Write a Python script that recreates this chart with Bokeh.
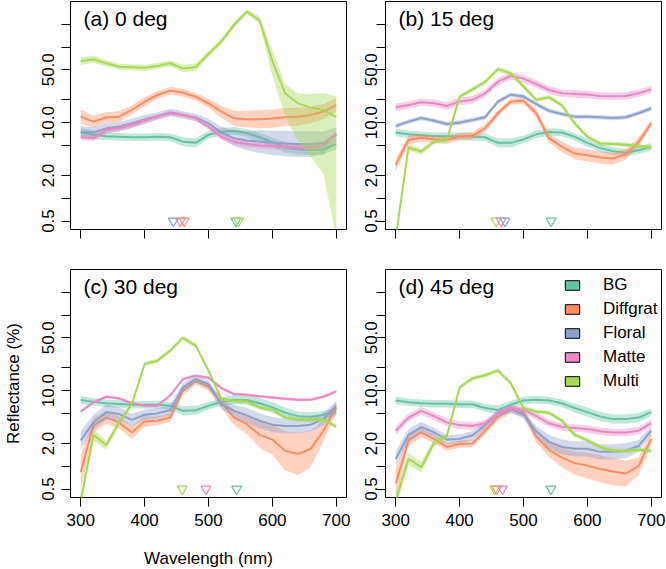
import numpy as np
from bokeh.plotting import figure
from bokeh.layouts import column, row
from bokeh.models import Range1d, FixedTicker, Label, Legend, LegendItem
from bokeh.embed import file_html
from bokeh.resources import INLINE

# ---------------- data ----------------
wavelength = [300, 320, 340, 360, 380, 400, 420, 440, 460, 480, 500,
              520, 540, 560, 580, 600, 620, 640, 660, 680, 700]
series_names = ["BG", "Diffgrat", "Floral", "Matte", "Multi"]
series_colors = ["#66C2A5", "#FC8D62", "#8DA0CB", "#E78AC3", "#A6D854"]
x_ticks = [300, 400, 500, 600, 700]
y_ticks = [0.5, 1, 2, 5, 10, 20, 50, 100, 200]
y_tick_labels = ["0.5", "", "2.0", "", "10.0", "", "50.0", "", ""]
panel_titles = ["(a) 0 deg", "(b) 15 deg", "(c) 30 deg", "(d) 45 deg"]

# (a) 0 deg : mean reflectance (%)
a_bg = [7.4, 6.9, 6.6, 6.5, 6.4, 6.4, 6.5, 6.4, 5.6, 5.4, 6.9, 7.6, 7.8, 7.3, 6.4, 5.5, 4.7, 4.45, 4.35, 4.45, 5.2]
a_diffgrat = [12.0, 10.3, 11.7, 12.0, 14.7, 18.9, 23.2, 26.5, 24.9, 22.0, 18.0, 14.0, 11.4, 11.1, 11.1, 11.3, 11.8, 12.0, 12.6, 14.0, 17.1]
a_floral = [7.6, 7.4, 8.4, 8.85, 9.8, 11.0, 12.2, 13.6, 12.6, 11.7, 9.8, 7.4, 6.2, 5.8, 5.6, 5.4, 5.3, 5.2, 5.2, 5.4, 6.9]
a_matte = [6.4, 6.2, 8.0, 8.4, 9.3, 10.6, 12.0, 13.3, 12.6, 11.4, 8.85, 6.5, 5.6, 5.2, 5.0, 4.9, 4.8, 4.7, 4.7, 5.06, 7.1]
a_multi = [65, 69, 61, 55, 54, 53, 56, 61, 52, 54, 81, 118, 196, 294, 225, 65, 24.4, 18, 15.8, 14.7, 11.8]
# (a) band half-widths (log10 units)
a_bg_w = [0.06, 0.06, 0.05, 0.05, 0.05, 0.05, 0.05, 0.05, 0.06, 0.06, 0.05, 0.05, 0.05, 0.05, 0.06, 0.06, 0.07, 0.07, 0.07, 0.07, 0.07]
a_diffgrat_w = [0.09, 0.08, 0.07, 0.07, 0.06, 0.06, 0.05, 0.05, 0.05, 0.05, 0.06, 0.08, 0.1, 0.11, 0.12, 0.12, 0.12, 0.12, 0.11, 0.1, 0.09]
a_floral_w = [0.07, 0.07, 0.07, 0.06, 0.06, 0.06, 0.05, 0.05, 0.05, 0.05, 0.06, 0.08, 0.1, 0.13, 0.15, 0.16, 0.17, 0.17, 0.17, 0.15, 0.1]
a_matte_w = [0.04, 0.04, 0.04, 0.04, 0.04, 0.04, 0.03, 0.03, 0.03, 0.03, 0.04, 0.04, 0.04, 0.04, 0.04, 0.04, 0.04, 0.04, 0.04, 0.04, 0.04]
a_multi_w = [0.05, 0.05, 0.04, 0.04, 0.04, 0.04, 0.04, 0.04, 0.05, 0.05, 0.04, 0.04, 0.04, 0.03, 0.05, 0.15, 0.12, 0.13, 0.18, 0.22, 0.28]
a_multi_wlo = [0.05, 0.05, 0.04, 0.04, 0.04, 0.04, 0.04, 0.04, 0.05, 0.05, 0.04, 0.04, 0.04, 0.03, 0.05, 0.2, 0.3, 0.5, 0.65, 0.85, 1.6]

# (b) 15 deg
b_bg = [7.4, 7.0, 6.8, 6.6, 6.6, 6.6, 6.5, 6.4, 5.4, 5.4, 6.0, 7.0, 7.5, 7.4, 6.5, 5.4, 4.6, 4.2, 4.0, 4.3, 4.8]
b_diffgrat = [2.75, 5.9, 6.3, 6.0, 5.9, 6.5, 6.7, 8.4, 13.3, 19.0, 19.4, 13.3, 6.2, 4.8, 3.9, 3.7, 3.45, 3.35, 3.8, 5.5, 9.8]
b_floral = [9.0, 10.3, 11.5, 10.6, 9.6, 10.0, 10.8, 11.8, 19.0, 23.4, 22.1, 17.6, 14.3, 13.0, 12.0, 12.0, 11.8, 11.5, 11.8, 13.3, 15.5]
b_matte = [16.0, 17.1, 18.6, 18.0, 16.6, 19.1, 20.0, 24.4, 34.8, 41.4, 38.2, 32.4, 27.0, 24.4, 24.0, 23.6, 22.5, 22.3, 22.5, 24.4, 27.5]
b_multi = [0.3, 4.7, 4.15, 5.6, 5.9, 22.0, 27.6, 34.5, 51.0, 45.0, 30.0, 20.0, 21.6, 17.0, 9.8, 6.5, 5.3, 5.2, 5.1, 4.9, 4.7]
b_bg_w = [0.05, 0.05, 0.05, 0.05, 0.05, 0.05, 0.05, 0.05, 0.06, 0.06, 0.05, 0.05, 0.05, 0.05, 0.05, 0.05, 0.05, 0.05, 0.05, 0.05, 0.05]
b_diffgrat_w = [0.08, 0.06, 0.05, 0.05, 0.05, 0.05, 0.05, 0.05, 0.04, 0.04, 0.04, 0.05, 0.06, 0.07, 0.08, 0.08, 0.08, 0.08, 0.07, 0.06, 0.05]
b_floral_w = [0.03, 0.03, 0.03, 0.03, 0.03, 0.03, 0.03, 0.03, 0.03, 0.03, 0.03, 0.03, 0.03, 0.03, 0.03, 0.03, 0.03, 0.03, 0.03, 0.03, 0.03]
b_matte_w = [0.05, 0.05, 0.05, 0.05, 0.05, 0.05, 0.05, 0.05, 0.05, 0.05, 0.05, 0.05, 0.05, 0.05, 0.05, 0.05, 0.05, 0.05, 0.05, 0.05, 0.05]
b_multi_w = [0.05, 0.04, 0.04, 0.03, 0.03, 0.03, 0.03, 0.03, 0.03, 0.03, 0.03, 0.03, 0.03, 0.03, 0.03, 0.03, 0.03, 0.03, 0.03, 0.03, 0.03]

# (c) 30 deg
c_bg = [7.5, 7.1, 6.8, 6.65, 6.5, 6.5, 6.5, 6.3, 5.4, 5.5, 6.3, 7.1, 7.6, 7.5, 6.8, 6.0, 5.1, 4.6, 4.5, 4.8, 5.2]
c_diffgrat = [0.83, 3.5, 4.4, 3.8, 2.8, 3.9, 4.0, 4.4, 10.0, 13.4, 11.2, 7.0, 4.4, 3.6, 2.6, 2.25, 1.6, 1.45, 1.7, 2.95, 6.0]
c_floral = [2.2, 3.8, 5.2, 4.9, 4.1, 4.8, 5.0, 5.5, 11.0, 14.2, 12.2, 6.65, 5.4, 4.7, 4.0, 3.55, 3.4, 3.4, 3.55, 4.2, 6.3]
c_matte = [5.3, 7.0, 8.3, 7.9, 6.8, 6.3, 6.3, 8.6, 14.2, 15.8, 14.8, 10.8, 9.0, 8.8, 8.4, 8.1, 7.8, 7.6, 7.6, 8.3, 9.8]
c_multi = [0.35, 2.6, 1.9, 3.8, 6.6, 22.5, 24.9, 33.8, 50.0, 39.4, 18.4, 7.75, 7.3, 7.2, 6.0, 5.6, 4.4, 4.15, 4.1, 4.1, 3.35]
c_bg_w = [0.05, 0.05, 0.05, 0.05, 0.05, 0.05, 0.05, 0.05, 0.06, 0.06, 0.05, 0.05, 0.06, 0.06, 0.07, 0.07, 0.07, 0.06, 0.06, 0.05, 0.05]
c_diffgrat_w = [0.22, 0.1, 0.08, 0.08, 0.09, 0.07, 0.06, 0.06, 0.06, 0.05, 0.05, 0.07, 0.1, 0.13, 0.17, 0.2, 0.26, 0.28, 0.24, 0.14, 0.08]
c_floral_w = [0.12, 0.1, 0.1, 0.09, 0.08, 0.07, 0.07, 0.07, 0.06, 0.05, 0.05, 0.06, 0.08, 0.1, 0.1, 0.1, 0.1, 0.1, 0.09, 0.08, 0.06]
c_matte_w = [0.02, 0.02, 0.02, 0.02, 0.02, 0.02, 0.02, 0.02, 0.02, 0.02, 0.02, 0.02, 0.02, 0.02, 0.02, 0.02, 0.02, 0.02, 0.02, 0.02, 0.02]
c_multi_w = [0.1, 0.08, 0.06, 0.04, 0.03, 0.03, 0.03, 0.03, 0.03, 0.03, 0.03, 0.03, 0.03, 0.03, 0.03, 0.03, 0.03, 0.03, 0.03, 0.03, 0.03]

# (d) 45 deg
d_bg = [7.4, 7.0, 6.8, 6.7, 6.7, 6.6, 6.6, 5.9, 5.55, 6.5, 7.4, 7.6, 7.4, 6.8, 5.9, 5.2, 4.55, 4.2, 4.2, 4.4, 5.2]
d_diffgrat = [0.59, 2.2, 2.8, 2.3, 1.8, 1.97, 2.0, 2.95, 4.5, 5.6, 5.2, 2.45, 1.65, 1.3, 1.1, 1.02, 0.92, 0.85, 0.8, 1.0, 2.3]
d_floral = [1.25, 2.6, 3.3, 2.8, 2.25, 2.3, 2.55, 3.5, 5.0, 5.7, 4.8, 2.9, 2.1, 1.8, 1.7, 1.7, 1.55, 1.55, 1.6, 1.85, 2.95]
d_matte = [2.95, 4.4, 5.4, 4.6, 3.8, 3.5, 3.4, 3.7, 5.0, 5.9, 5.6, 4.6, 3.7, 3.3, 3.2, 3.1, 2.9, 2.8, 2.8, 2.95, 3.7]
d_multi = [0.35, 1.25, 0.97, 2.05, 2.5, 11.0, 14.5, 16.0, 18.5, 12.5, 5.9, 5.3, 5.1, 4.0, 2.6, 2.2, 1.8, 1.6, 1.6, 1.65, 1.6]
d_bg_w = [0.05, 0.05, 0.05, 0.05, 0.05, 0.05, 0.05, 0.05, 0.06, 0.05, 0.05, 0.05, 0.05, 0.05, 0.06, 0.06, 0.06, 0.06, 0.06, 0.06, 0.05]
d_diffgrat_w = [0.2, 0.08, 0.06, 0.06, 0.05, 0.05, 0.05, 0.05, 0.05, 0.05, 0.06, 0.08, 0.1, 0.13, 0.15, 0.17, 0.18, 0.18, 0.17, 0.12, 0.08]
d_floral_w = [0.1, 0.08, 0.07, 0.06, 0.06, 0.06, 0.06, 0.05, 0.05, 0.05, 0.05, 0.07, 0.09, 0.1, 0.1, 0.1, 0.1, 0.1, 0.1, 0.08, 0.06]
d_matte_w = [0.06, 0.05, 0.05, 0.05, 0.05, 0.05, 0.05, 0.04, 0.04, 0.04, 0.04, 0.05, 0.05, 0.05, 0.05, 0.05, 0.05, 0.05, 0.05, 0.05, 0.05]
d_multi_w = [0.1, 0.08, 0.07, 0.05, 0.04, 0.03, 0.03, 0.03, 0.03, 0.03, 0.03, 0.03, 0.03, 0.03, 0.03, 0.03, 0.03, 0.03, 0.03, 0.03, 0.03]

# peak-wavelength markers per panel
a_peak_series = ["Floral", "Matte", "Diffgrat", "BG", "Multi"]
a_peak_nm = [445, 456, 462, 543, 547]
b_peak_series = ["Multi", "Matte", "Floral", "BG"]
b_peak_nm = [457, 465, 471, 543]
c_peak_series = ["Multi", "Matte", "BG"]
c_peak_nm = [459, 496, 544]
d_peak_series = ["Multi", "Diffgrat", "Matte", "BG"]
d_peak_nm = [455, 458, 467, 543]

# ---------------- layout constants ----------------
FW, FH = 276, 228
FONT = "Liberation Sans"
color_of = dict(zip(series_names, series_colors))


def make_panel(means, widths, wlo, peaks_s, peaks_nm, title, left, right, top, bottom,
               xlabels, ylabel_standoff, ylab=None, xlab=None):
    p = figure(frame_width=FW, frame_height=FH,
               x_range=Range1d(284, 716), y_range=Range1d(0.386, 400),
               y_axis_type="log", output_backend="svg", toolbar_location=None,
               min_border_left=left, min_border_right=right,
               min_border_top=top, min_border_bottom=bottom)
    p.xgrid.visible = False
    p.ygrid.visible = False
    p.outline_line_color = "black"
    p.outline_line_width = 1
    p.outline_line_alpha = 1
    p.background_fill_color = "white"
    p.border_fill_color = "white"

    x = np.array(wavelength, dtype=float)
    for name, m, w in zip(series_names, means, widths):
        m = np.array(m, dtype=float)
        w = np.array(w, dtype=float)
        wl = np.array(wlo[name], dtype=float) if name in wlo else w
        col = color_of[name]
        p.varea(x=x, y1=m / 10 ** wl, y2=m * 10 ** w, fill_color=col, fill_alpha=0.4)
        p.line(x, m, line_color=col, line_width=2)

    for s, nm in zip(peaks_s, peaks_nm):
        p.scatter([nm], [0.5], marker="inverted_triangle", size=10, fill_color=None,
                  line_color=color_of[s], line_width=1.2)

    for ax in (p.xaxis[0], p.yaxis[0]):
        ax.axis_line_color = None
        ax.major_tick_line_color = "black"
        ax.major_tick_line_width = 1
        ax.major_tick_out = 9
        ax.major_tick_in = 0
        ax.minor_tick_line_color = None
        ax.major_label_text_font = FONT
        ax.major_label_text_font_size = "17px"
        ax.major_label_text_color = "black"
        ax.axis_label_text_font = FONT
        ax.axis_label_text_font_size = "17px"
        ax.axis_label_text_font_style = "normal"
        ax.axis_label_text_color = "black"

    p.xaxis.ticker = FixedTicker(ticks=x_ticks)
    p.yaxis.ticker = FixedTicker(ticks=y_ticks)
    p.yaxis.major_label_overrides = {t: l for t, l in zip(y_ticks, y_tick_labels)}
    p.yaxis.major_label_orientation = "vertical"
    p.yaxis.major_label_standoff = ylabel_standoff
    if not xlabels:
        p.xaxis.major_label_overrides = {t: "" for t in x_ticks}
        p.xaxis.major_label_standoff = 0
    else:
        p.xaxis.major_label_standoff = 7
    if ylab:
        p.yaxis.axis_label = ylab
        p.yaxis.axis_label_standoff = 17
    if xlab:
        p.xaxis.axis_label = xlab
        p.xaxis.axis_label_standoff = 20

    p.add_layout(Label(x=13, y=FH - 5, x_units="screen", y_units="screen", text=title,
                       text_baseline="top", text_align="left", text_font=FONT,
                       text_font_size="21px", text_color="black"))
    return p


pa = make_panel([a_bg, a_diffgrat, a_floral, a_matte, a_multi],
                [a_bg_w, a_diffgrat_w, a_floral_w, a_matte_w, a_multi_w],
                {"Multi": a_multi_wlo}, a_peak_series, a_peak_nm, panel_titles[0],
                70, 9, 1, 39, False, 7)
pb = make_panel([b_bg, b_diffgrat, b_floral, b_matte, b_multi],
                [b_bg_w, b_diffgrat_w, b_floral_w, b_matte_w, b_multi_w],
                {}, b_peak_series, b_peak_nm, panel_titles[1],
                30, 4, 1, 39, False, -1)
pc = make_panel([c_bg, c_diffgrat, c_floral, c_matte, c_multi],
                [c_bg_w, c_diffgrat_w, c_floral_w, c_matte_w, c_multi_w],
                {}, c_peak_series, c_peak_nm, panel_titles[2],
                70, 9, 1, 70, True, 7, ylab="Reflectance (%)", xlab="Wavelength (nm)")
pd_ = make_panel([d_bg, d_diffgrat, d_floral, d_matte, d_multi],
                 [d_bg_w, d_diffgrat_w, d_floral_w, d_matte_w, d_multi_w],
                 {}, d_peak_series, d_peak_nm, panel_titles[3],
                 30, 4, 1, 70, True, -1)

# legend on panel (d): colour keys drawn from renderers with no visible position
items = []
for name, col in zip(series_names, series_colors):
    r = pd_.rect(x=[np.nan], y=[np.nan], width=1, height=1, fill_color=col,
                 line_color="black", line_width=1)
    items.append(LegendItem(label=name, renderers=[r]))
leg_h = 5 * 20 + 4 * 4
legend = Legend(items=items, location=(178, FH - 6 - leg_h), orientation="vertical",
                glyph_width=18, glyph_height=12, label_height=20, spacing=4,
                padding=0, margin=0, label_standoff=22,
                border_line_color=None, background_fill_alpha=0,
                label_text_font=FONT, label_text_font_size="17px", label_text_color="black")
pd_.add_layout(legend)

layout = column(row(pa, pb), row(pc, pd_))
open("out.html", "w").write(file_html(layout, INLINE))
